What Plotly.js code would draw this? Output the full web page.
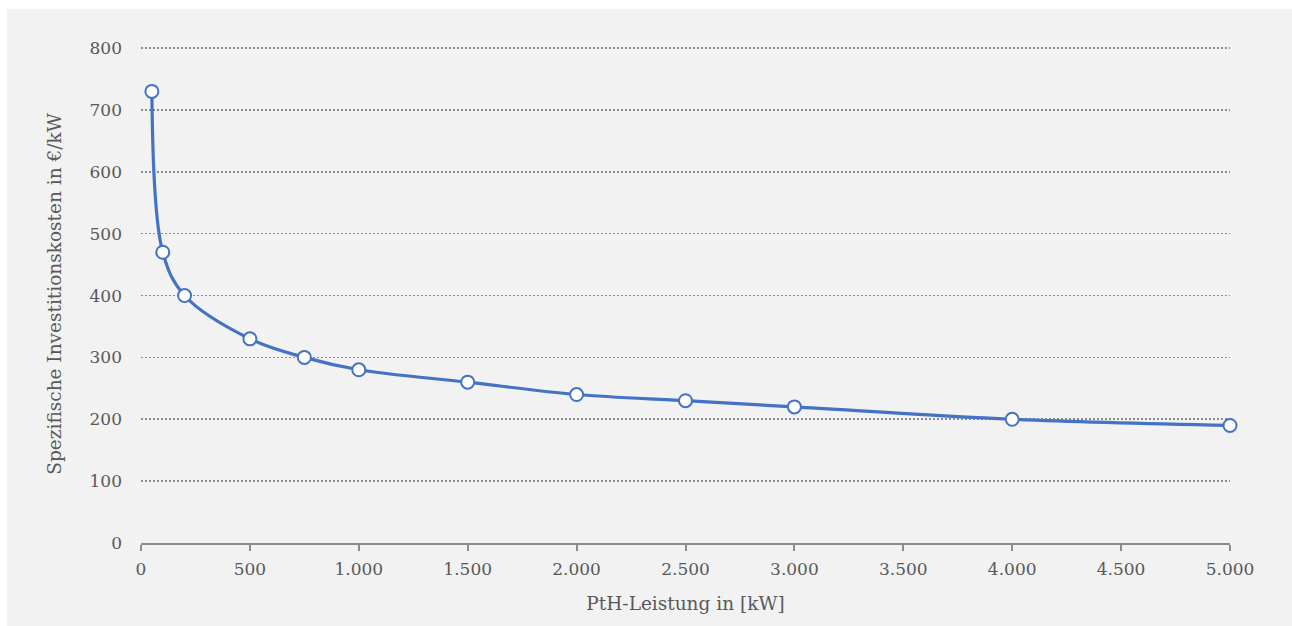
<!DOCTYPE html>
<html><head><meta charset="utf-8">
<script src="https://cdn.plot.ly/plotly-3.0.1.min.js"></script>
<style>html,body{margin:0;padding:0;background:#fff;width:1292px;height:626px;overflow:hidden}
#chart{position:absolute;left:7px;top:9px;width:1285px;height:617px}</style>
</head><body><div id="chart"></div>
<script>
const leistung = [50, 100, 200, 500, 750, 1000, 1500, 2000, 2500, 3000, 4000, 5000];
const kosten = [730, 470, 400, 330, 300, 280, 260, 240, 230, 220, 200, 190];
const xTicks = [0, 500, 1000, 1500, 2000, 2500, 3000, 3500, 4000, 4500, 5000];
const yTicks = [0, 100, 200, 300, 400, 500, 600, 700, 800];
const font = {family: 'DejaVu Serif, serif', size: 17, color: '#595959'};
const titleFont = {family: 'DejaVu Serif, serif', size: 18.5, color: '#595959'};
Plotly.newPlot('chart', [{
  x: leistung, y: kosten, type: 'scatter', mode: 'lines+markers',
  line: {color: '#4472C4', width: 3.2, shape: 'spline', smoothing: 1},
  marker: {size: 13, color: '#ffffff', line: {color: '#4472C4', width: 2}},
  cliponaxis: false
}], {
  width: 1285, height: 617,
  paper_bgcolor: '#f2f2f2', plot_bgcolor: '#f2f2f2',
  margin: {l: 134, r: 62, t: 36, b: 83},
  separators: ',.',
  font: font,
  showlegend: false,
  xaxis: {range: [0, 5000], tickvals: xTicks, tickformat: ',d', showgrid: false, zeroline: false,
    showline: true, linecolor: '#8c8c8c', linewidth: 2, ticks: 'outside', ticklen: 6, tickcolor: '#8c8c8c', tickwidth: 2,
    ticklabelstandoff: 4,
    tickfont: font, title: {text: 'PtH-Leistung in [kW]', font: titleFont, standoff: 19}},
  yaxis: {range: [0, 805], tickvals: yTicks, showgrid: true, gridcolor: '#8c8c8c', griddash: '2px,2px', gridwidth: 1.6,
    zeroline: false, showline: false, ticks: '', tickfont: font, ticklabelstandoff: 18,
    title: {text: 'Spezifische Investitionskosten in €/kW', font: titleFont, standoff: 23}}
}, {displayModeBar: false, staticPlot: true});
</script></body></html>
